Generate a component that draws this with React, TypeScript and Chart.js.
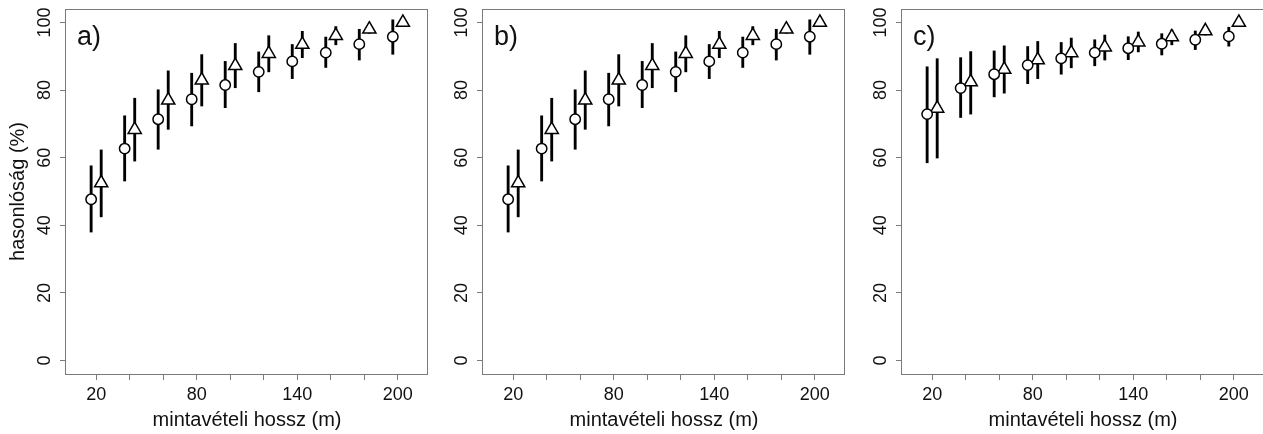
import React, { useEffect, useRef } from 'react';
import { Chart, registerables } from 'chart.js';

Chart.register(...registerables);

// ---- data ----
const lengths = [20, 40, 60, 80, 100, 120, 140, 160, 180, 200];
const xTicks = [20, 40, 60, 80, 100, 120, 140, 160, 180, 200];
const xTickLabels = [20, 80, 140, 200];
const yTicks = [0, 20, 40, 60, 80, 100];

const circleMeanA = [47.7, 62.7, 71.4, 77.3, 81.5, 85.4, 88.5, 91.1, 93.6, 95.8];
const circleLowA = [38.0, 53.1, 62.5, 69.4, 74.8, 79.5, 83.4, 86.7, 88.9, 90.6];
const circleHighA = [57.6, 72.4, 80.1, 85.0, 88.5, 91.3, 93.5, 95.7, 98.0, 100.8];
const triMeanA = [52.5, 68.3, 77.0, 82.9, 87.2, 90.8, 93.5, 96.1, 98.0, 100.0];
const triLowA = [42.5, 59.0, 68.4, 75.3, 80.7, 85.4, 89.6, 93.4, 96.8, 100.0];
const triHighA = [62.3, 77.6, 85.7, 90.5, 93.8, 96.1, 97.4, 98.8, 99.6, 100.0];

const circleMeanB = [47.7, 62.7, 71.4, 77.3, 81.5, 85.4, 88.5, 91.1, 93.6, 95.8];
const circleLowB = [38.0, 53.1, 62.5, 69.4, 74.8, 79.5, 83.4, 86.7, 88.9, 90.6];
const circleHighB = [57.6, 72.4, 80.1, 85.0, 88.5, 91.3, 93.5, 95.7, 98.0, 100.8];
const triMeanB = [52.5, 68.3, 77.0, 82.9, 87.2, 90.8, 93.5, 96.1, 98.0, 100.0];
const triLowB = [42.5, 59.0, 68.4, 75.3, 80.7, 85.4, 89.6, 93.4, 96.8, 100.0];
const triHighB = [62.3, 77.6, 85.7, 90.5, 93.8, 96.1, 97.4, 98.8, 99.6, 100.0];

const circleMeanC = [72.9, 80.6, 84.7, 87.4, 89.4, 91.1, 92.4, 93.7, 94.9, 95.9];
const circleLowC = [58.5, 71.9, 78.0, 81.9, 84.7, 87.2, 89.0, 90.4, 92.0, 93.0];
const circleHighC = [86.9, 89.6, 91.6, 92.9, 94.1, 94.9, 95.8, 96.7, 97.5, 98.6];
const triMeanC = [74.6, 82.4, 86.1, 88.9, 91.0, 92.7, 94.2, 95.7, 97.5, 100.0];
const triLowC = [59.9, 72.9, 79.1, 83.4, 86.6, 88.9, 91.3, 93.4, 96.3, 100.0];
const triHighC = [89.3, 91.4, 93.1, 94.4, 95.4, 96.3, 97.2, 97.8, 98.8, 100.0];

const xTitle = 'mintavételi hossz (m)';
const yTitle = 'hasonlóság (%)';

// ---- style ----
const FONT = "'Liberation Sans', Arial, Helvetica, sans-serif";
const AXIS_COLOR = '#7a7a7a';
const TEXT_COLOR = '#111111';
const DODGE = 3;
const CANVAS_W = 430;
const CANVAS_H = 434;
const PLOT_RIGHT = 428;

const framePlugin = {
  id: 'frame',
  beforeDatasetsDraw(chart: any) {
    const { ctx, chartArea: a } = chart;
    ctx.save();
    ctx.strokeStyle = AXIS_COLOR;
    ctx.lineWidth = 1;
    ctx.strokeRect(a.left - 0.5, a.top + 0.5, a.right - a.left, a.bottom - a.top);
    ctx.restore();
  },
  afterDraw(chart: any, _args: any, opts: any) {
    const { ctx, chartArea: a } = chart;
    ctx.save();
    ctx.fillStyle = TEXT_COLOR;
    ctx.font = `27px ${FONT}`;
    ctx.textAlign = 'left';
    ctx.textBaseline = 'alphabetic';
    ctx.fillText(opts.label, a.left + 11, a.top + 35.5);
    ctx.restore();
  },
};

type PanelProps = {
  label: string;
  left: number;
  showYTitle: boolean;
  circleMean: number[];
  circleLow: number[];
  circleHigh: number[];
  triMean: number[];
  triLow: number[];
  triHigh: number[];
};

function Panel(p: PanelProps) {
  const ref = useRef<HTMLCanvasElement>(null);
  useEffect(() => {
    if (!ref.current) return;
    const errBar = (offset: number, lo: number[], hi: number[]) => ({
      type: 'bar' as const,
      data: lengths.map((l, i) => ({ x: l + offset, y: [lo[i], hi[i]] })),
      backgroundColor: '#000000',
      borderWidth: 0,
      barThickness: 2.2,
      grouped: false,
      order: 2,
    });
    const pts = (offset: number, mean: number[], style: string, r: number) => ({
      type: 'scatter' as const,
      data: lengths.map((l, i) => ({ x: l + offset, y: mean[i] })),
      pointStyle: style,
      pointRadius: r,
      pointBackgroundColor: '#ffffff',
      pointBorderColor: '#000000',
      pointBorderWidth: 1.5,
      showLine: false,
      order: 1,
    });
    const chart = new Chart(ref.current, {
      type: 'scatter',
      data: {
        datasets: [
          errBar(-DODGE, p.circleLow, p.circleHigh),
          errBar(DODGE, p.triLow, p.triHigh),
          pts(-DODGE, p.circleMean, 'circle', 5.2),
          pts(DODGE, p.triMean, 'triangle', 7.6),
        ] as any,
      },
      options: {
        responsive: false,
        animation: false,
        events: [],
        devicePixelRatio: 1,
        layout: {
          autoPadding: false,
          padding: { top: 9, right: CANVAS_W - PLOT_RIGHT, bottom: 0, left: 0 },
        },
        plugins: {
          legend: { display: false },
          tooltip: { enabled: false },
          frame: { label: p.label },
        } as any,
        scales: {
          x: {
            type: 'linear',
            min: 2,
            max: 218,
            offset: false,
            afterBuildTicks: (s: any) => {
              s.ticks = xTicks.map((v) => ({ value: v }));
            },
            afterFit: (s: any) => {
              s.height = CANVAS_H - 374;
              s.paddingLeft = 0;
              s.paddingRight = 0;
            },
            ticks: {
              autoSkip: false,
              maxRotation: 0,
              minRotation: 0,
              padding: 4,
              color: TEXT_COLOR,
              font: { family: FONT, size: 18 },
              callback: (v: any) => (xTickLabels.includes(Number(v)) ? String(v) : ''),
            },
            grid: {
              display: true,
              drawOnChartArea: false,
              drawTicks: true,
              tickLength: 6,
              tickColor: AXIS_COLOR,
              color: AXIS_COLOR,
              offset: false,
            },
            border: { display: false },
            title: {
              display: true,
              text: xTitle,
              color: TEXT_COLOR,
              font: { family: FONT, size: 20 },
              padding: { top: 0, bottom: 2 },
            },
          },
          y: {
            type: 'linear',
            min: -4,
            max: 104,
            afterBuildTicks: (s: any) => {
              s.ticks = yTicks.map((v) => ({ value: v }));
            },
            afterFit: (s: any) => {
              s.width = 66;
              s.paddingTop = 0;
              s.paddingBottom = 0;
            },
            ticks: {
              autoSkip: false,
              minRotation: 90,
              maxRotation: 90,
              crossAlign: 'center',
              padding: 0,
              color: TEXT_COLOR,
              font: { family: FONT, size: 18 },
            },
            grid: {
              display: true,
              drawOnChartArea: false,
              drawTicks: true,
              tickLength: 6,
              tickColor: AXIS_COLOR,
              color: AXIS_COLOR,
            },
            border: { display: false },
            title: {
              display: p.showYTitle,
              text: yTitle,
              color: TEXT_COLOR,
              font: { family: FONT, size: 20 },
              padding: { top: 6.5, bottom: 0 },
            },
          },
        },
      },
      plugins: [framePlugin],
    });
    return () => chart.destroy();
  }, []);
  return (
    <div style={{ position: 'absolute', left: p.left, top: 0, width: CANVAS_W, height: CANVAS_H }}>
      <canvas ref={ref} width={CANVAS_W} height={CANVAS_H} style={{ width: CANVAS_W, height: CANVAS_H, display: 'block' }} />
    </div>
  );
}

export default function App() {
  return (
    <div
      style={{
        position: 'fixed',
        left: 0,
        top: 0,
        width: 1263,
        height: 434,
        overflow: 'hidden',
        background: '#ffffff',
      }}
    >
      <Panel label="a)" left={0} showYTitle={true}
        circleMean={circleMeanA} circleLow={circleLowA} circleHigh={circleHighA}
        triMean={triMeanA} triLow={triLowA} triHigh={triHighA} />
      <Panel label="b)" left={417} showYTitle={false}
        circleMean={circleMeanB} circleLow={circleLowB} circleHigh={circleHighB}
        triMean={triMeanB} triLow={triLowB} triHigh={triHighB} />
      <Panel label="c)" left={836} showYTitle={false}
        circleMean={circleMeanC} circleLow={circleLowC} circleHigh={circleHighC}
        triMean={triMeanC} triLow={triLowC} triHigh={triHighC} />
    </div>
  );
}
